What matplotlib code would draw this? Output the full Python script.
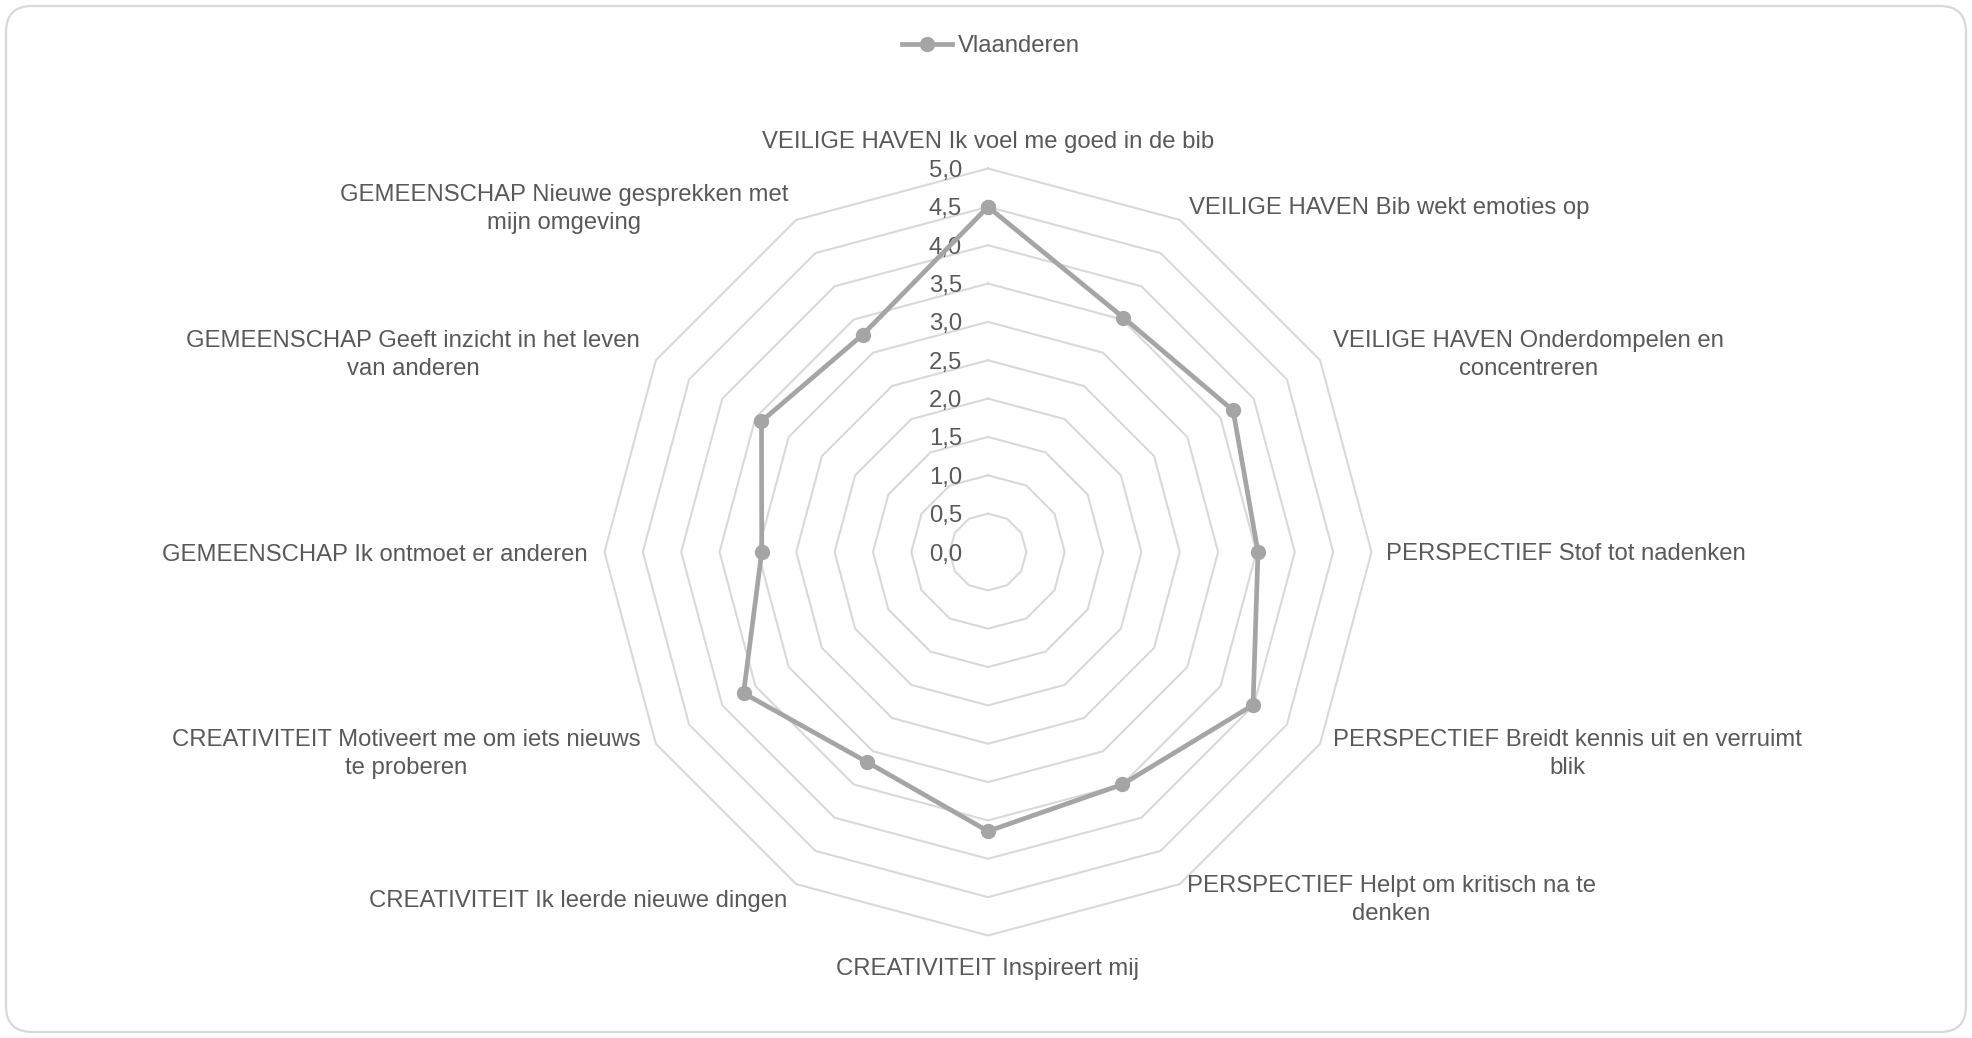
import numpy as np
import matplotlib
matplotlib.use("Agg")
import matplotlib.pyplot as plt
from matplotlib.lines import Line2D
from matplotlib.patches import FancyBboxPatch
from matplotlib.transforms import IdentityTransform

categories = [
    "VEILIGE HAVEN Ik voel me goed in de bib",
    "VEILIGE HAVEN Bib wekt emoties op",
    "VEILIGE HAVEN Onderdompelen en\nconcentreren",
    "PERSPECTIEF Stof tot nadenken",
    "PERSPECTIEF Breidt kennis uit en verruimt\nblik",
    "PERSPECTIEF Helpt om kritisch na te\ndenken",
    "CREATIVITEIT Inspireert mij",
    "CREATIVITEIT Ik leerde nieuwe dingen",
    "CREATIVITEIT Motiveert me om iets nieuws\nte proberen",
    "GEMEENSCHAP Ik ontmoet er anderen",
    "GEMEENSCHAP Geeft inzicht in het leven\nvan anderen",
    "GEMEENSCHAP Nieuwe gesprekken met\nmijn omgeving",
]
vlaanderen = [4.50, 3.53, 3.69, 3.52, 3.99, 3.50, 3.64, 3.16, 3.68, 2.95, 3.41, 3.27]
series_name = "Vlaanderen"
ring_values = [0.0, 0.5, 1.0, 1.5, 2.0, 2.5, 3.0, 3.5, 4.0, 4.5, 5.0]
ring_labels = ["0,0", "0,5", "1,0", "1,5", "2,0", "2,5", "3,0", "3,5", "4,0", "4,5", "5,0"]

W, H = 1972, 1038
DPI = 100
plt.rcParams['font.family'] = ['Liberation Sans', 'DejaVu Sans']
FS = 17.2
TXT = '#595959'
GRID = '#d9d9d9'
LINE = '#a5a5a5'

fig = plt.figure(figsize=(W / DPI, H / DPI), dpi=DPI)
fig.patch.set_facecolor('white')

# rounded border
border = FancyBboxPatch((6, 6), W - 12, H - 12,
                        boxstyle="round,pad=0,rounding_size=26",
                        transform=IdentityTransform(), facecolor='none',
                        edgecolor=GRID, linewidth=1.6)
fig.patches.append(border)

cx, cy, R = 988, 552, 383.5
ax = fig.add_axes([(cx - R) / W, (H - cy - R) / H, 2 * R / W, 2 * R / H],
                  projection='polar')
ax.set_theta_zero_location('N')
ax.set_theta_direction(-1)
ax.set_ylim(0, 5)
ax.grid(False)
ax.spines['polar'].set_visible(False)
ax.set_xticks([])
ax.set_yticks([])
ax.patch.set_alpha(0)

n = len(categories)
theta = np.arange(n) * 2 * np.pi / n
theta_closed = np.append(theta, theta[0])

# polygon rings
for rv in ring_values[1:]:
    ax.plot(theta_closed, [rv] * (n + 1), color=GRID, lw=1.5, zorder=1,
            clip_on=False)

# radial tick labels
for rv, lab in zip(ring_values, ring_labels):
    ax.annotate(lab, xy=(0, rv), xytext=(-26, -2.5), textcoords='offset pixels',
                ha='right', va='center', fontsize=FS, color=TXT,
                annotation_clip=False)

# data
vals_closed = vlaanderen + [vlaanderen[0]]
ax.plot(theta_closed, vals_closed, color=LINE, lw=3.4, marker='o',
        markersize=10, markerfacecolor=LINE, markeredgecolor=LINE, zorder=3,
        clip_on=False)

# category labels: (dx, dy, ha)
label_style = [
    (0, 27, 'center'),
    (9, 11.5, 'left'),
    (13, 5, 'left'),
    (15, -2.5, 'left'),
    (13, -10, 'left'),
    (7, -16, 'left'),
    (0, -33, 'center'),
    (-9, -16.5, 'right'),
    (-15, -10, 'right'),
    (-17, -2.5, 'right'),
    (-16, 5, 'right'),
    (-8, 11, 'right'),
]
for t, lab, (dx, dy, ha) in zip(theta, categories, label_style):
    ax.annotate(lab, xy=(t, 5.0), xytext=(dx, dy), textcoords='offset pixels',
                ha=ha, va='center', multialignment='center', fontsize=FS,
                color=TXT, linespacing=1.38, annotation_clip=False)

handle = Line2D([0], [0], color=LINE, lw=3.4, marker='o', markersize=10,
                markerfacecolor=LINE, markeredgecolor=LINE)
leg = fig.legend([handle], [series_name], loc='center',
                 bbox_to_anchor=(991 / W, 1 - 46 / H), frameon=False,
                 fontsize=FS, handlelength=2.1, handletextpad=0.25)
for t in leg.get_texts():
    t.set_color(TXT)

fig.savefig('out.png', dpi=DPI)
